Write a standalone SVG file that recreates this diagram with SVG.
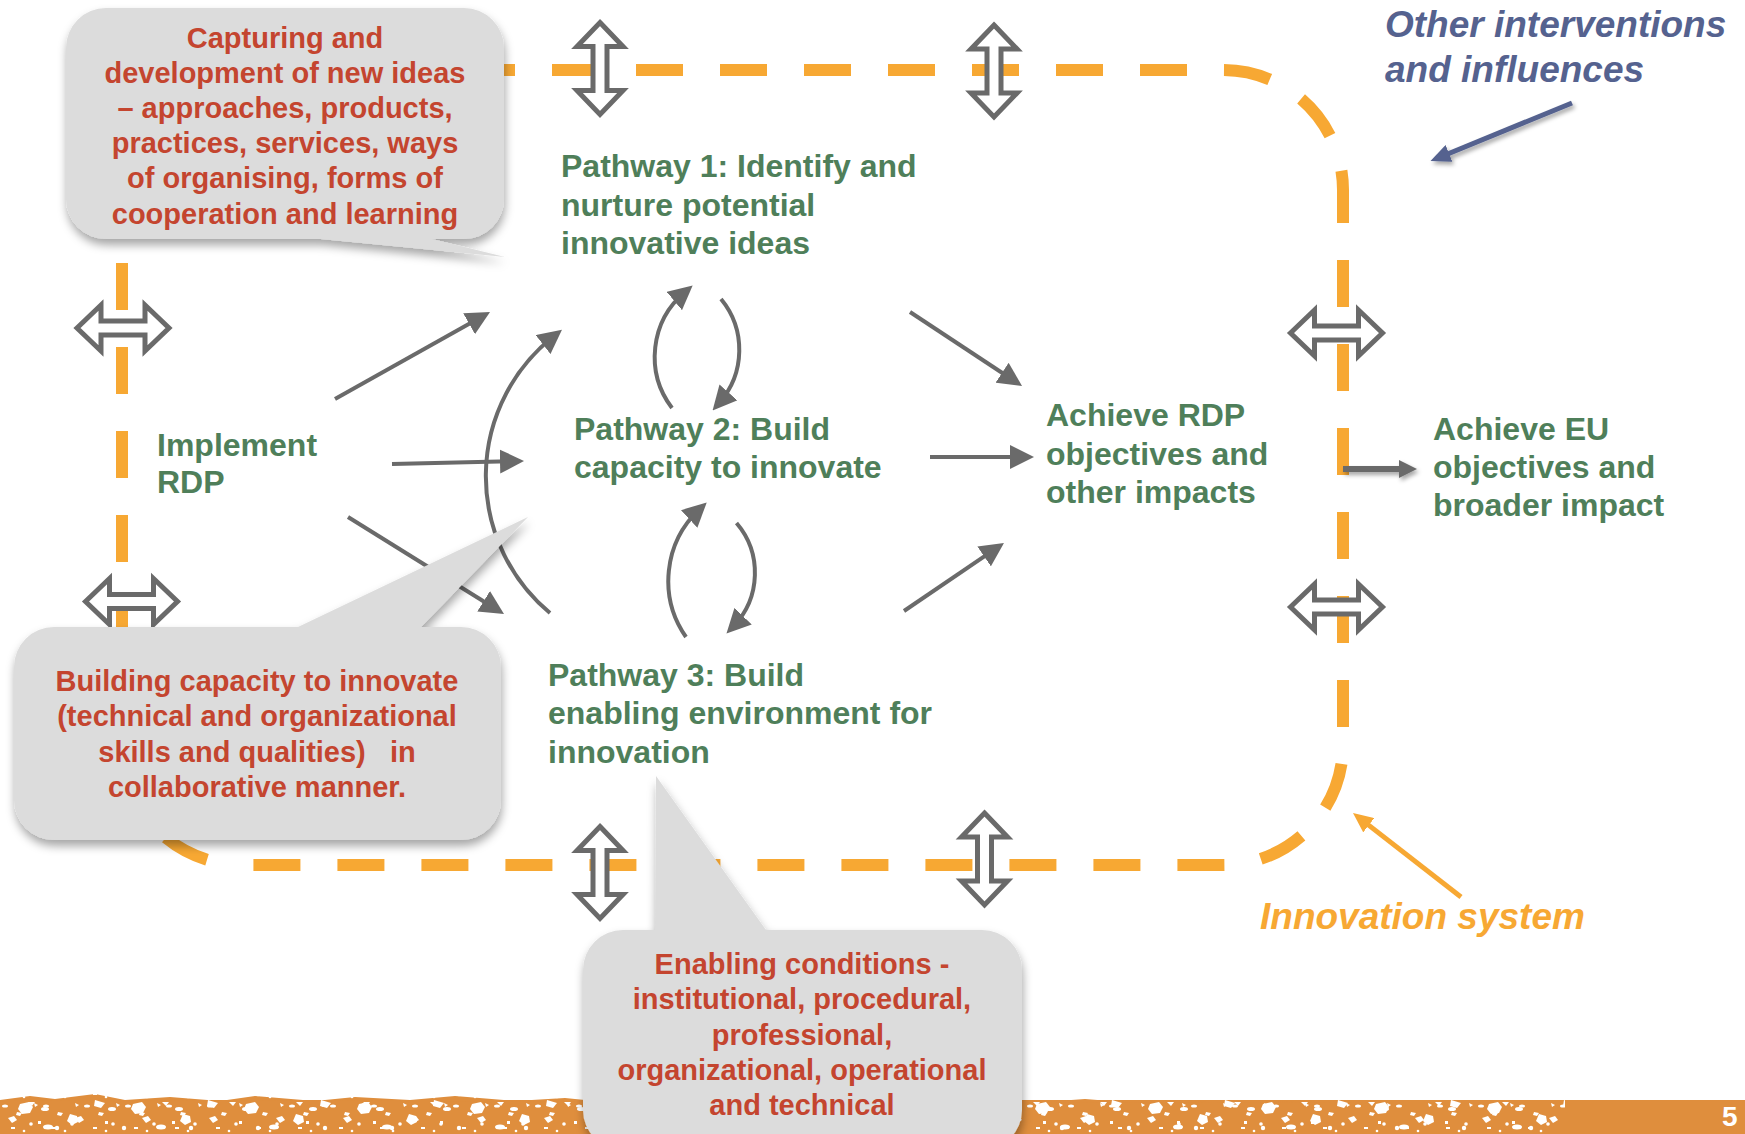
<svg xmlns="http://www.w3.org/2000/svg" width="1745" height="1134" viewBox="0 0 1745 1134">
<defs>
<style>
.loop{fill:none;stroke:#F7A833;stroke-width:12;stroke-dasharray:47 37}
.dbl{fill:#fff;stroke:#6a6a6a;stroke-width:5;stroke-linejoin:miter}
.con{fill:none;stroke:#6a6a6a;stroke-width:4;marker-end:url(#ah)}
.txt{font-family:"Liberation Sans",Arial,Helvetica,sans-serif;font-weight:bold}
.g{font-size:32px;fill:#4F7F5A}
.r{font-size:29px;fill:#C4452F;text-anchor:middle}
.call{fill:#DCDCDC;filter:url(#shadow)}
.spk{fill:#fff}
</style>
<filter id="shadow" x="-10%" y="-10%" width="125%" height="135%">
<feDropShadow dx="1" dy="6" stdDeviation="5" flood-color="#000" flood-opacity="0.35"/>
</filter>
<filter id="sh2" filterUnits="userSpaceOnUse" x="0" y="0" width="1745" height="1134">
<feDropShadow dx="2" dy="3" stdDeviation="2" flood-color="#000" flood-opacity="0.35"/>
</filter>
<marker id="ah" viewBox="0 0 24 24" refX="14" refY="12" markerWidth="24" markerHeight="24" markerUnits="userSpaceOnUse" orient="auto">
<path d="M0,0 L24,12 L0,24 Z" fill="#6a6a6a"/>
</marker>
<marker id="ahs" viewBox="0 0 18 18" refX="10" refY="9" markerWidth="18" markerHeight="18" markerUnits="userSpaceOnUse" orient="auto">
<path d="M0,0 L18,9 L0,18 Z" fill="#6a6a6a"/>
</marker>
<marker id="ahb" viewBox="0 0 20 18" refX="12" refY="9" markerWidth="20" markerHeight="18" markerUnits="userSpaceOnUse" orient="auto">
<path d="M0,0 L20,9 L0,18 Z" fill="#55628F"/>
</marker>
<marker id="aho" viewBox="0 0 20 18" refX="12" refY="9" markerWidth="20" markerHeight="18" markerUnits="userSpaceOnUse" orient="auto">
<path d="M0,0 L20,9 L0,18 Z" fill="#F7A833"/>
</marker>
<path id="dbl" d="M-46,0 L-22,-23 L-22,-7 L22,-7 L22,-23 L46,0 L22,23 L22,7 L-22,7 L-22,23 Z"/>
<pattern id="sp1" width="41" height="34" patternUnits="userSpaceOnUse" y="1100">
<ellipse class="spk" cx="5" cy="6" rx="3" ry="1.6"/>
<path class="spk" d="M17,12 l5,1 l-2,3 l-4,-1 z"/>
<circle class="spk" cx="31" cy="24" r="1.8"/>
<rect class="spk" x="11" y="27" width="4" height="2"/>
<path class="spk" d="M34,3 l4,2 l-3,2 z"/>
<circle class="spk" cx="24" cy="31" r="1.3"/>
</pattern>
<pattern id="sp2" width="67" height="34" patternUnits="userSpaceOnUse" y="1100">
<path class="spk" d="M8,18 l6,-2 l3,4 l-5,3 z"/>
<ellipse class="spk" cx="45" cy="9" rx="4" ry="2"/>
<circle class="spk" cx="57" cy="28" r="2.2"/>
<path class="spk" d="M28,2 l7,0 l-3,4 z"/>
<rect class="spk" x="38" y="21" width="3" height="3"/>
</pattern>
<pattern id="sp3" width="113" height="34" patternUnits="userSpaceOnUse" y="1100">
<path class="spk" d="M20,4 l9,-2 l4,5 l-3,6 l-8,1 l-4,-5 z"/>
<path class="spk" d="M70,14 l7,2 l1,6 l-6,3 l-5,-4 z"/>
<path class="spk" d="M95,0 l10,3 l-4,5 l-7,-2 z"/>
<ellipse class="spk" cx="48" cy="27" rx="5" ry="2.5"/>
</pattern>
</defs>

<g id="footer-band">
<rect x="0" y="1100" width="1745" height="34" fill="#DF8E3D"/>
<path d="M0,1100 l30,-4 l25,3 l40,-5 l30,6 l45,-3 l50,4 l35,-5 l60,5 l40,-4 l55,3 l45,-4 l60,5 l50,-3 l40,4 l55,-5 l45,4 l70,-3 l40,4 l60,-4 l50,5 l45,-3 l60,3 l55,-4 l50,4 l45,-3 l40,3 l80,-2 l30,2 z" fill="#DF8E3D"/>
<rect x="0" y="1094" width="1565" height="40" fill="url(#sp1)"/>
<rect x="0" y="1094" width="1565" height="40" fill="url(#sp2)"/>
<rect x="0" y="1094" width="1565" height="40" fill="url(#sp3)"/>
<text class="txt" x="1722" y="1126" font-size="28" fill="#fff">5</text>
</g>

<g id="innovation-system-loop">
<path class="loop" style="stroke-dashoffset:26" d="M242,70 H1223 A120,120 0 0 1 1343,190"/>
<path class="loop" style="stroke-dashoffset:14" d="M1343,190 V745 A120,120 0 0 1 1223,865 H242"/>
<path class="loop" style="stroke-dashoffset:48.5" d="M242,865 A120,120 0 0 1 122,745 V190 A120,120 0 0 1 242,70"/>
</g>

<g id="boundary-interactions" class="dbl">
<use href="#dbl" transform="translate(600,68.5) rotate(90)"/>
<use href="#dbl" transform="translate(994,71) rotate(90)"/>
<use href="#dbl" transform="translate(600,872.5) rotate(90)"/>
<use href="#dbl" transform="translate(984.5,859) rotate(90)"/>
<use href="#dbl" transform="translate(123,328)"/>
<use href="#dbl" transform="translate(131.5,601.5)"/>
<use href="#dbl" transform="translate(1336.5,333)"/>
<use href="#dbl" transform="translate(1336.5,607)"/>
</g>

<g id="connectors">
<path class="con" d="M335,399 L481.3,316.9"/>
<path class="con" d="M392,464 L514,461.2"/>
<path class="con" d="M348,517 L495.5,608.7"/>
<path class="con" d="M550,613 A178,178 0 0 1 554.1,336"/>
<path class="con" d="M672,408 A84.5,84.5 0 0 1 685,292"/>
<path class="con" d="M721,299 A80,80 0 0 1 719.2,402.9"/>
<path class="con" d="M686,637 A97.8,97.8 0 0 1 699.4,509.4"/>
<path class="con" d="M736.5,523 A76.9,76.9 0 0 1 733.4,626.3"/>
<path class="con" d="M910,312 L1013.7,380.5"/>
<path class="con" d="M930,457 L1024,457"/>
<path class="con" d="M904,611 L995.7,548.6"/>
<path d="M1343,469 L1409,469" fill="none" stroke="#6a6a6a" stroke-width="6" marker-end="url(#ahs)" filter="url(#sh2)"/>
<path d="M1572,103 L1437.9,158" fill="none" stroke="#55628F" stroke-width="5" marker-end="url(#ahb)" filter="url(#sh2)"/>
<path d="M1461,897 L1359.3,817.9" fill="none" stroke="#F7A833" stroke-width="5" marker-end="url(#aho)"/>
</g>

<g id="node-implement" class="txt g">
<text x="157" y="455.5">Implement</text>
<text x="157" y="493">RDP</text>
</g>
<g id="node-pathway1" class="txt g">
<text x="561" y="177">Pathway 1: Identify and</text>
<text x="561" y="215.5">nurture potential</text>
<text x="561" y="254">innovative ideas</text>
</g>
<g id="node-pathway2" class="txt g">
<text x="574" y="439.5">Pathway 2: Build</text>
<text x="574" y="477.5">capacity to innovate</text>
</g>
<g id="node-pathway3" class="txt g">
<text x="548" y="685.5">Pathway 3: Build</text>
<text x="548" y="724">enabling environment for</text>
<text x="548" y="762.5">innovation</text>
</g>
<g id="node-achieve-rdp" class="txt g">
<text x="1046" y="426">Achieve RDP</text>
<text x="1046" y="464.5">objectives and</text>
<text x="1046" y="503">other impacts</text>
</g>
<g id="node-achieve-eu" class="txt g">
<text x="1433" y="440">Achieve EU</text>
<text x="1433" y="478">objectives and</text>
<text x="1433" y="516">broader impact</text>
</g>
<g id="label-other" class="txt" font-size="37" font-style="italic" fill="#55628F">
<text x="1385" y="36.5">Other interventions</text>
<text x="1385" y="81.5">and influences</text>
</g>
<g id="label-innovation-system" class="txt" font-size="37" font-style="italic" fill="#F7A833">
<text x="1260" y="929">Innovation system</text>
</g>

<g id="callout-ideas">
<path class="call" d="M106,8 H464 A40,40 0 0 1 504,48 V199 A40,40 0 0 1 464,239 H432 L505,257 L321,239 H106 A40,40 0 0 1 66,199 V48 A40,40 0 0 1 106,8 Z"/>
<g class="txt r">
<text x="285" y="47.5">Capturing and</text>
<text x="285" y="82.7">development of new ideas</text>
<text x="285" y="117.9">– approaches, products,</text>
<text x="285" y="153.1">practices, services, ways</text>
<text x="285" y="188.3">of organising, forms of</text>
<text x="285" y="223.5">cooperation and learning</text>
</g>
</g>

<g id="callout-capacity">
<path class="call" d="M54,627 H298 L528,517 L421,627 H461 A40,40 0 0 1 501,667 V800 A40,40 0 0 1 461,840 H54 A40,40 0 0 1 14,800 V667 A40,40 0 0 1 54,627 Z"/>
<g class="txt r">
<text x="257" y="690.5">Building capacity to innovate</text>
<text x="257" y="726">(technical and organizational</text>
<text x="257" y="761.5" style="white-space:pre">skills and qualities)   in</text>
<text x="257" y="797">collaborative manner.</text>
</g>
</g>

<g id="callout-enabling">
<path class="call" d="M623,930 H655 L656,776 L766,930 H982 A40,40 0 0 1 1022,970 V1110 A40,40 0 0 1 982,1150 H623 A40,40 0 0 1 583,1110 V970 A40,40 0 0 1 623,930 Z"/>
<g class="txt r">
<text x="802" y="973.5">Enabling conditions -</text>
<text x="802" y="1009">institutional, procedural,</text>
<text x="802" y="1044.5">professional,</text>
<text x="802" y="1080">organizational, operational</text>
<text x="802" y="1114.5">and technical</text>
</g>
</g>
</svg>
